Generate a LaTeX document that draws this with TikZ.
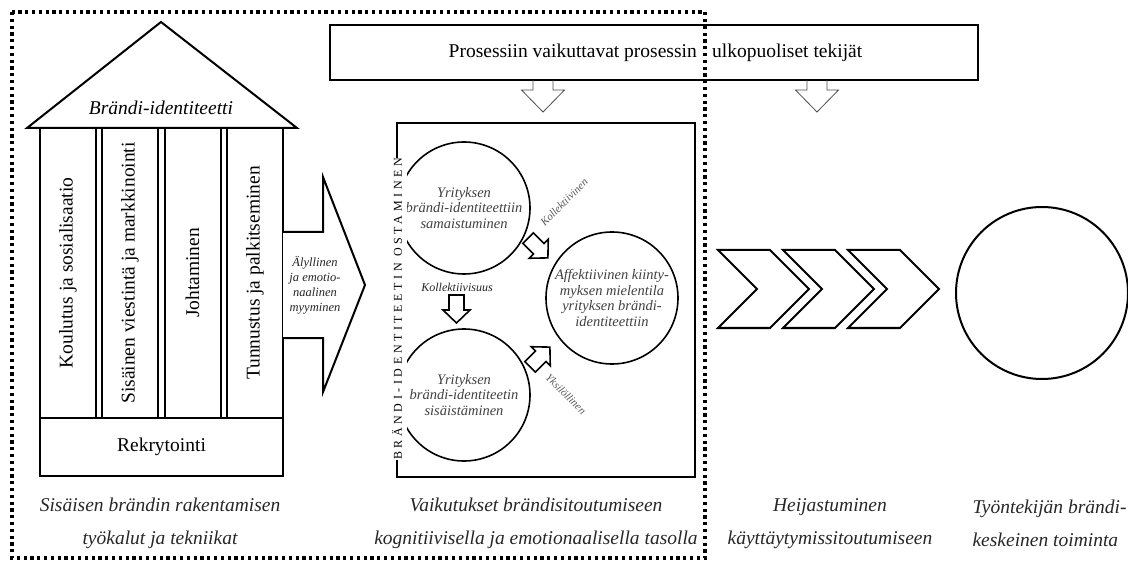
\documentclass[tikz,border=0pt]{standalone}
\usepackage{fontspec}
\setmainfont{Liberation Serif}
\usetikzlibrary{positioning}

\begin{document}
\begin{tikzpicture}[x=1pt, y=-1pt, line join=miter,
    bigfont/.style={font=\fontsize{19.5}{23}\selectfont},
    pillar/.style={draw, line width=2pt, rotate=90, minimum width=290pt, minimum height=56pt, inner sep=0pt, bigfont},
    caption/.style={font=\fontsize{19.5}{33}\selectfont\itshape, align=center, text=black!85},
    bubble/.style={draw, circle, line width=1.6pt, minimum size=132pt, inner sep=0pt, align=center, font=\fontsize{14.5}{15.5}\selectfont\itshape, text=black!75},
    hollow/.style={draw, line width=1.6pt, fill=white},
    tiplabel/.style={font=\fontsize{11}{12}\selectfont\itshape, text=black!65},
    chevron/.style={draw, line width=2pt},
    dotframe/.style={line width=3.2pt, dash pattern=on 3.2pt off 3.6pt}]

\useasboundingbox (0,0) rectangle (1128,564);

\node[draw, line width=2pt, minimum width=648pt, minimum height=55pt] (factors) at (654,52.5) {};
\node[bigfont, anchor=east, inner sep=0pt] (factorsa) at (697,52.5) {Prosessiin vaikuttavat prosessin};
\node[bigfont, anchor=west, inner sep=0pt] (factorsb) at (712,52.5) {ulkopuoliset tekijät};
\coordinate (d1) at (543,80);
\coordinate (d2) at (817,80);
\draw[black!70, line width=0.8pt] ([xshift=-10pt]d1) -- ++(0,10) -- ++(-11.5,0) -- ++(21.5,22) -- ++(21.5,-22) -- ++(-11.5,0) -- ++(0,-10);
\draw[black!70, line width=0.8pt] ([xshift=-10pt]d2) -- ++(0,10) -- ++(-11.5,0) -- ++(21.5,22) -- ++(21.5,-22) -- ++(-11.5,0) -- ++(0,-10);

\draw[line width=2pt] (27,128) -- (161,22) -- (297,128) -- cycle;
\node[font=\fontsize{19.5}{23}\selectfont\itshape] (identity) at (161,108) {Brändi-identiteetti};

\node[pillar] (p1) at (68,273) {Koulutus ja sosialisaatio};
\node[pillar] (p2) at (130,273) {Sisäinen viestintä ja markkinointi};
\node[pillar] (p3) at (192.5,273) {Johtaminen};
\node[pillar] (p4) at (255,273) {Tunnustus ja palkitseminen};
\node[draw, line width=2pt, minimum width=243pt, minimum height=58pt, bigfont] (rekry) at (161.5,447) {Rekrytointi};

\draw[line width=2pt, fill=white] (283,232) -- (323,232) -- (323,177) -- (365,285) -- (323,392) -- (323,338) -- (283,338);
\node[font=\fontsize{12.5}{15}\selectfont\itshape, align=center, text=black!85] (sell) at (315,285) {Älyllinen\\ja emotio-\\naalinen\\myyminen};

\node[draw, line width=2pt, minimum width=298pt, minimum height=354pt] (effects) at (546,300) {};
\node[bubble] (samaist) at (464,208) {Yrityksen\\brändi-identiteettiin\\samaistuminen};
\node[bubble] (sisaist) at (464,395) {Yrityksen\\brändi-identiteetin\\sisäistäminen};
\node[bubble] (affekt) at (612,298) {Affektiivinen kiinty-\\myksen mielentila\\yrityksen brändi-\\identiteettiin};
\node[rotate=90, fill=white, inner xsep=0pt, inner ysep=5pt, font=\fontsize{12}{14}\selectfont\addfontfeature{LetterSpace=30}] (buying) at (397,309) {BRÄNDI-IDENTITEETIN OSTAMINEN};

\draw[hollow, shift={(456.5,309)}, rotate=-90] (-14,-7.5) -- (1,-7.5) -- (1,-13.5) -- (14,0) -- (1,13.5) -- (1,7.5) -- (-14,7.5) -- cycle;
\draw[hollow, shift={(538,248)}, rotate=-45] (-14,-7.5) -- (1,-7.5) -- (1,-13.5) -- (14,0) -- (1,13.5) -- (1,7.5) -- (-14,7.5) -- cycle;
\draw[hollow, shift={(540,357)}, rotate=45] (-14,-7.5) -- (1,-7.5) -- (1,-13.5) -- (14,0) -- (1,13.5) -- (1,7.5) -- (-14,7.5) -- cycle;
\node[tiplabel, font=\fontsize{12}{12}\selectfont\itshape, text=black!85] (kollsuus) at (457,287) {Kollektiivisuus};
\node[tiplabel, rotate=45] (kollinen) at (564,202) {Kollektiivinen};
\node[tiplabel, rotate=-45] (yksil) at (566,394) {Yksilöllinen};

\draw[chevron] (718,250) -- ++(52,0) -- ++(39,39) -- ++(-39,39) -- ++(-52,0) -- ++(39,-39) -- cycle;
\draw[chevron] (783,250) -- ++(52,0) -- ++(39,39) -- ++(-39,39) -- ++(-52,0) -- ++(39,-39) -- cycle;
\draw[chevron] (848,250) -- ++(52,0) -- ++(39,39) -- ++(-39,39) -- ++(-52,0) -- ++(39,-39) -- cycle;
\node[draw, circle, line width=2pt, minimum size=172pt] (action) at (1042,293) {};

\node[caption] (cap1) at (160,523.5) {Sisäisen brändin rakentamisen\\työkalut ja tekniikat};
\node[caption] (cap2) at (536,523.5) {Vaikutukset brändisitoutumiseen\\kognitiivisella ja emotionaalisella tasolla};
\node[caption] (cap3) at (830,523.5) {Heijastuminen\\käyttäytymissitoutumiseen};
\node[caption, align=left, anchor=west] (cap4) at (969,523.5) {Työntekijän brändi-\\keskeinen toiminta};

\draw[dotframe] (12,12) rectangle (705,558);
\end{tikzpicture}
\end{document}
